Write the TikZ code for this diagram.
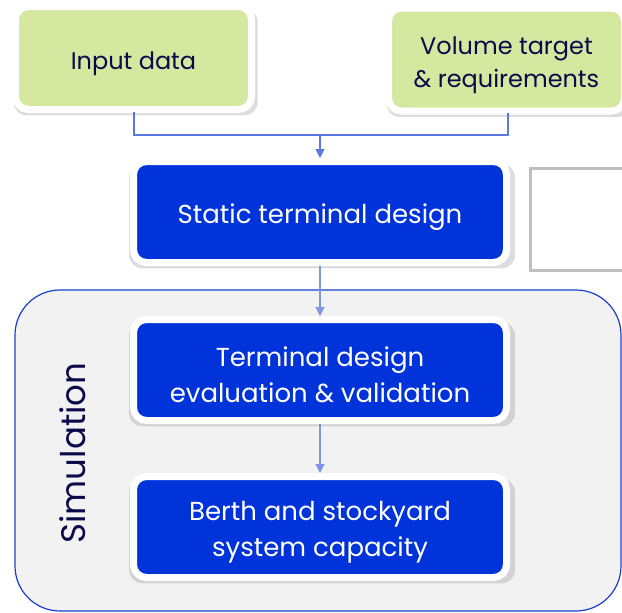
\documentclass[tikz,border=0pt]{standalone}
\usepackage{fontspec}
\setmainfont{Poppins}
\usetikzlibrary{shadows,arrows.meta}
\definecolor{boxblue}{HTML}{0033D9}
\definecolor{boxgreen}{HTML}{D5E8A0}
\definecolor{navy}{HTML}{0A0A4A}
\definecolor{conn}{HTML}{5A78E0}
\definecolor{conn2}{HTML}{7F95E2}
\definecolor{simfill}{HTML}{F2F2F2}
\definecolor{simline}{HTML}{1A3FD0}
\definecolor{grayline}{HTML}{BFBFBF}
\tikzset{
  basebox/.style={draw=white, line width=7pt, rounded corners=13pt,
    minimum width=373pt, minimum height=101pt, inner sep=0pt,
    drop shadow={shadow xshift=2pt, shadow yshift=-4pt, shadow scale=1.035, opacity=0.22, fill=black!60}},
  bluebox/.style={basebox, fill=boxblue},
  greenbox/.style={basebox, fill=boxgreen, minimum width=236pt, minimum height=103pt},
  bluetext/.style={align=center, text=white, font=\fontsize{26}{36}\selectfont, yshift=-5pt},
  greentext/.style={align=center, text=navy, font=\fontsize{24}{33}\selectfont, yshift=-6pt},
  link/.style={conn, line width=1.1pt},
  arr/.style={link, -{Triangle[length=9pt,width=9pt]}},
}
\begin{document}
\begin{tikzpicture}[x=1pt,y=-1pt]
\useasboundingbox (0,0) rectangle (622,613);
\clip (0,0) rectangle (622,613);
% simulation container
\node[draw=simline, fill=simfill, line width=1.2pt, rounded corners=45pt, minimum width=606pt, minimum height=321pt, inner sep=0pt] (sim) at (318,450.5) {};
\node[rotate=90, text=navy, font=\fontsize{34}{38}\selectfont] (simlabel) at (73,453) {Simulation};
% gray rectangle (partly outside)
\node[draw=grayline, line width=3pt, minimum width=110pt, minimum height=102pt, inner sep=0pt] (gray) at (585,219) {};
% boxes
\node[greenbox, label={[greentext]center:Input data}] (inp) at (133.5,58) {};
\node[greenbox, label={[greentext]center:Volume target\\\& requirements}] (vol) at (506.5,59.5) {};
\node[bluebox, label={[bluetext]center:Static terminal design}] (stat) at (320,212) {};
\node[bluebox, label={[bluetext]center:Terminal design\\evaluation \& validation}] (eval) at (320,370) {};
\node[bluebox, label={[bluetext]center:Berth and stockyard\\system capacity}] (berth) at (320,527) {};
% connectors
\coordinate (j) at (320,135);
\coordinate (jl) at (134,135);
\coordinate (jr) at (508,135);
\draw[link] (134,112) -- (jl) -- (jr) -- (508,113);
\draw[arr] (j) -- (stat.north);
\draw[arr, conn2] (stat.south) -- (eval.north);
\draw[arr, conn2] (eval.south) -- (berth.north);
\end{tikzpicture}
\end{document}
